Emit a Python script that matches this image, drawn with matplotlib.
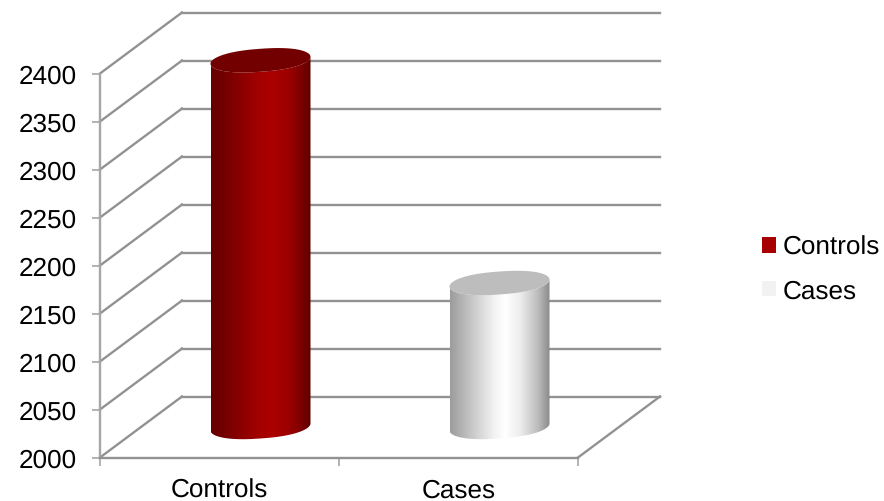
import matplotlib
matplotlib.use("Agg")
import matplotlib.pyplot as plt
import numpy as np
from matplotlib.colors import LinearSegmentedColormap
from matplotlib.patches import Patch, Polygon
from matplotlib.path import Path
from matplotlib.transforms import Affine2D

categories = ["Controls", "Cases"]
values = [2382, 2150]
y_ticks = [2000, 2050, 2100, 2150, 2200, 2250, 2300, 2350, 2400]

legend_colors = ["#a60000", "#f2f2f2"]
top_colors = ["#720000", "#bdbdbd"]
side_colors = [
    [(0.0, "#640000"), (0.2, "#7d0000"), (0.5, "#a60000"), (0.62, "#ab0000"),
     (0.8, "#980000"), (0.92, "#780000"), (1.0, "#5c0000")],
    [(0.0, "#9c9c9c"), (0.2, "#c4c4c4"), (0.45, "#f4f4f4"), (0.55, "#ffffff"),
     (0.7, "#eeeeee"), (0.88, "#bdbdbd"), (1.0, "#8a8a8a")],
]

GRID = "#929292"
AXIS = "#a6a6a6"
LW = 1.7
W, H = 884, 502

plt.rcParams["font.family"] = ["Liberation Sans", "DejaVu Sans"]
plt.rcParams["text.hinting"] = "none"

fig = plt.figure(figsize=(W / 100, H / 100), dpi=100)
ax = fig.add_axes([100 / W, 1 - 458.5 / H, 478 / W, 384 / H])
ax.set_xlim(0, 2)
ax.set_ylim(2000, 2400)

# pixel offsets for the back wall and for the middle of the floor
back = ax.transData + Affine2D().translate(82, 61)
mid = ax.transData + Affine2D().translate(41, 30.5)

for v in y_ticks:
    ax.plot([0, 2], [v, v], color=GRID, lw=LW, transform=back, clip_on=False, zorder=1)
    # side wall: front edge of the wall to the back wall
    x0, y0 = ax.transData.transform((0, v))
    x1, y1 = back.transform((0, v))
    ax.plot([x0, x1], [y0, y1], color=GRID, lw=LW, transform=None, clip_on=False, zorder=1)

# floor edge on the right
x0, y0 = ax.transData.transform((2, 2000))
x1, y1 = back.transform((2, 2000))
ax.plot([x0, x1], [y0, y1], color=GRID, lw=LW, transform=None, clip_on=False, zorder=1)

half_w = 50 / 239
cap_b = 11.5 / 0.96
cap_s = 3.5 / 0.96
t = np.linspace(0, 2 * np.pi, 400)
# slightly squared cosine so the cap ends stay round
ct = np.sign(np.cos(t)) * np.abs(np.cos(t)) ** 0.85

for i, (val, top_c, stops) in enumerate(zip(values, top_colors, side_colors)):
    cx = i + 0.5
    ex = cx + half_w * ct
    top_y = val + cap_b * np.sin(t) + cap_s * ct
    base_y = 2000 + cap_b * np.sin(t) + cap_s * ct

    # outline of the side: lower half of the base, then back over the top
    lower = t >= np.pi
    side = np.vstack([
        np.column_stack([ex[lower], base_y[lower]]),
        np.column_stack([ex[lower][::-1], top_y[lower][::-1]]),
    ])
    cmap = LinearSegmentedColormap.from_list("side%d" % i, stops)
    grad = np.linspace(0, 1, 256).reshape(1, -1)
    im = ax.imshow(grad, cmap=cmap, aspect="auto", interpolation="bilinear",
                   extent=(cx - half_w, cx + half_w, 1970, val + 30),
                   transform=mid, zorder=3)
    im.set_clip_box(fig.bbox)
    im.set_clip_path(Path(side), mid)

    cap = Polygon(np.column_stack([ex, top_y]), closed=True, facecolor=top_c,
                  edgecolor="none", transform=mid, clip_on=False, zorder=4)
    ax.add_patch(cap)

ax.set_xlim(0, 2)
ax.set_ylim(2000, 2400)

for name in ["top", "right"]:
    ax.spines[name].set_visible(False)
ax.spines["left"].set_color(AXIS)
ax.spines["left"].set_linewidth(LW)
ax.spines["bottom"].set_color(GRID)
ax.spines["bottom"].set_linewidth(LW)

ax.set_yticks(y_ticks)
ax.set_xticks([0, 1, 2])
ax.set_xticklabels([])
ax.set_xticks([0.5, 1.5], minor=True)
ax.set_xticklabels(categories, minor=True, fontsize=18.8)
ax.tick_params(axis="x", which="minor", length=0, pad=15, labelcolor="black")
ax.tick_params(axis="x", which="major", length=6, width=1.2, color=AXIS)
ax.tick_params(axis="y", length=6, width=1.2, color=AXIS, labelsize=18.8, pad=11)
ax.patch.set_alpha(0)

handles = [Patch(facecolor=c, edgecolor="none") for c in legend_colors]
fig.legend(handles, categories, loc="upper left", bbox_to_anchor=(757 / W, 1 - 231 / H),
           frameon=False, fontsize=18.8, handlelength=0.53, handleheight=0.53,
           handletextpad=0.25, labelspacing=0.75, borderpad=0.2, borderaxespad=0)

fig.savefig("out.png", dpi=100)
